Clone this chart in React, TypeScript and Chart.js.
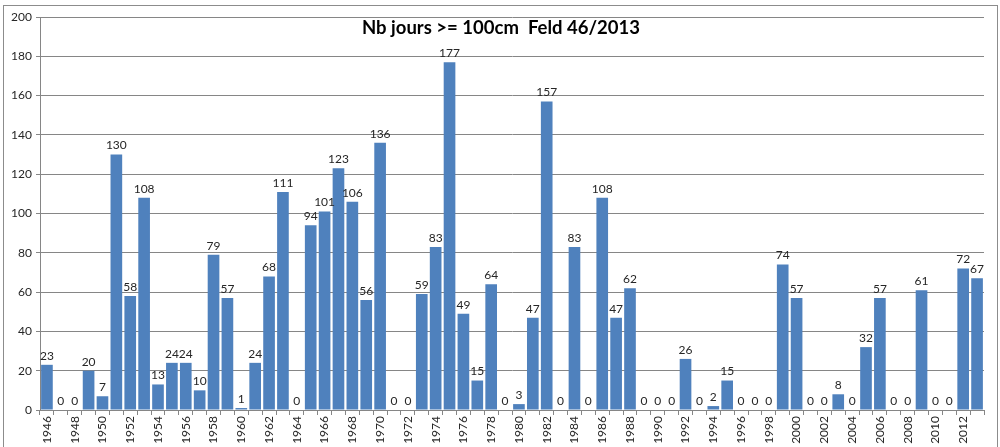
import React, { useEffect, useRef } from "react";
import { Chart, registerables } from "chart.js";

Chart.register(...registerables);

const years: string[] = [];
for (let y = 1946; y <= 2013; y++) years.push(String(y));

const days: number[] = [
  23, 0, 0, 20, 7, 130, 58, 108, 13, 24,
  24, 10, 79, 57, 1, 24, 68, 111, 0, 94,
  101, 123, 106, 56, 136, 0, 0, 59, 83, 177,
  49, 15, 64, 0, 3, 47, 157, 0, 83, 0,
  108, 47, 62, 0, 0, 0, 26, 0, 2, 15,
  0, 0, 0, 74, 57, 0, 0, 8, 0, 32,
  57, 0, 0, 61, 0, 0, 72, 67,
];

const titleText = "Nb jours >= 100cm  Feld 46/2013";
const FONT = "Lato, 'Open Sans', sans-serif";

const overlayPlugin = {
  id: "overlay",
  beforeDraw(chart: any) {
    const ctx = chart.ctx;
    ctx.save();
    ctx.fillStyle = "#ffffff";
    ctx.fillRect(0, 0, chart.width, chart.height);
    ctx.strokeStyle = "#8c8c8c";
    ctx.lineWidth = 1;
    ctx.strokeRect(3.5, 5.5, 994, 450);
    ctx.restore();
  },
  afterDatasetsDraw(chart: any) {
    const ctx = chart.ctx;
    const meta = chart.getDatasetMeta(0);
    ctx.save();
    ctx.font = `12px ${FONT}`;
    ctx.fillStyle = "#262626";
    ctx.textAlign = "center";
    ctx.textBaseline = "bottom";
    meta.data.forEach((bar: any, i: number) => {
      ctx.fillText(String(days[i]), bar.x, bar.y - 3);
    });
    ctx.font = `bold 18.5px ${FONT}`;
    ctx.fillStyle = "#000000";
    ctx.textBaseline = "middle";
    ctx.fillText(titleText, 501, 28);
    ctx.restore();
  },
};

export default function App() {
  const ref = useRef<HTMLCanvasElement>(null);
  useEffect(() => {
    document.body.style.margin = "0";
    const chart = new Chart(ref.current!, {
      type: "bar",
      data: {
        labels: years,
        datasets: [
          {
            data: days,
            backgroundColor: "#4F81BD",
            borderWidth: 0,
            barPercentage: 0.84,
            categoryPercentage: 1,
          },
        ],
      },
      options: {
        animation: false,
        responsive: false,
        maintainAspectRatio: false,
        layout: { padding: { top: 17, left: 0, right: 16, bottom: 0 } },
        plugins: { legend: { display: false }, tooltip: { enabled: false }, title: { display: false } },
        scales: {
          x: {
            offset: true,
            grid: {
              display: true,
              drawOnChartArea: false,
              drawTicks: true,
              tickLength: 5,
              offset: true,
              color: "#868686",
            },
            border: { display: true, color: "#868686" },
            ticks: {
              autoSkip: false,
              maxRotation: 90,
              minRotation: 90,
              padding: 1,
              color: "#262626",
              font: { family: FONT, size: 12 },
              callback: (v: any, i: number) => (i % 2 === 0 ? years[i] : ""),
            },
            afterFit: (s: any) => {
              s.height = 37;
            },
          },
          y: {
            min: 0,
            max: 200,
            grid: { color: "#868686", tickLength: 4 },
            border: { display: true, color: "#868686" },
            ticks: {
              stepSize: 20,
              padding: 4,
              color: "#262626",
              font: { family: FONT, size: 12 },
            },
            afterFit: (s: any) => {
              s.width = 40;
            },
          },
        },
      },
      plugins: [overlayPlugin],
    });
    return () => chart.destroy();
  }, []);
  return (
    <div style={{ width: 1000, height: 447 }}>
      <canvas ref={ref} width={1000} height={447} style={{ display: "block" }} />
    </div>
  );
}
